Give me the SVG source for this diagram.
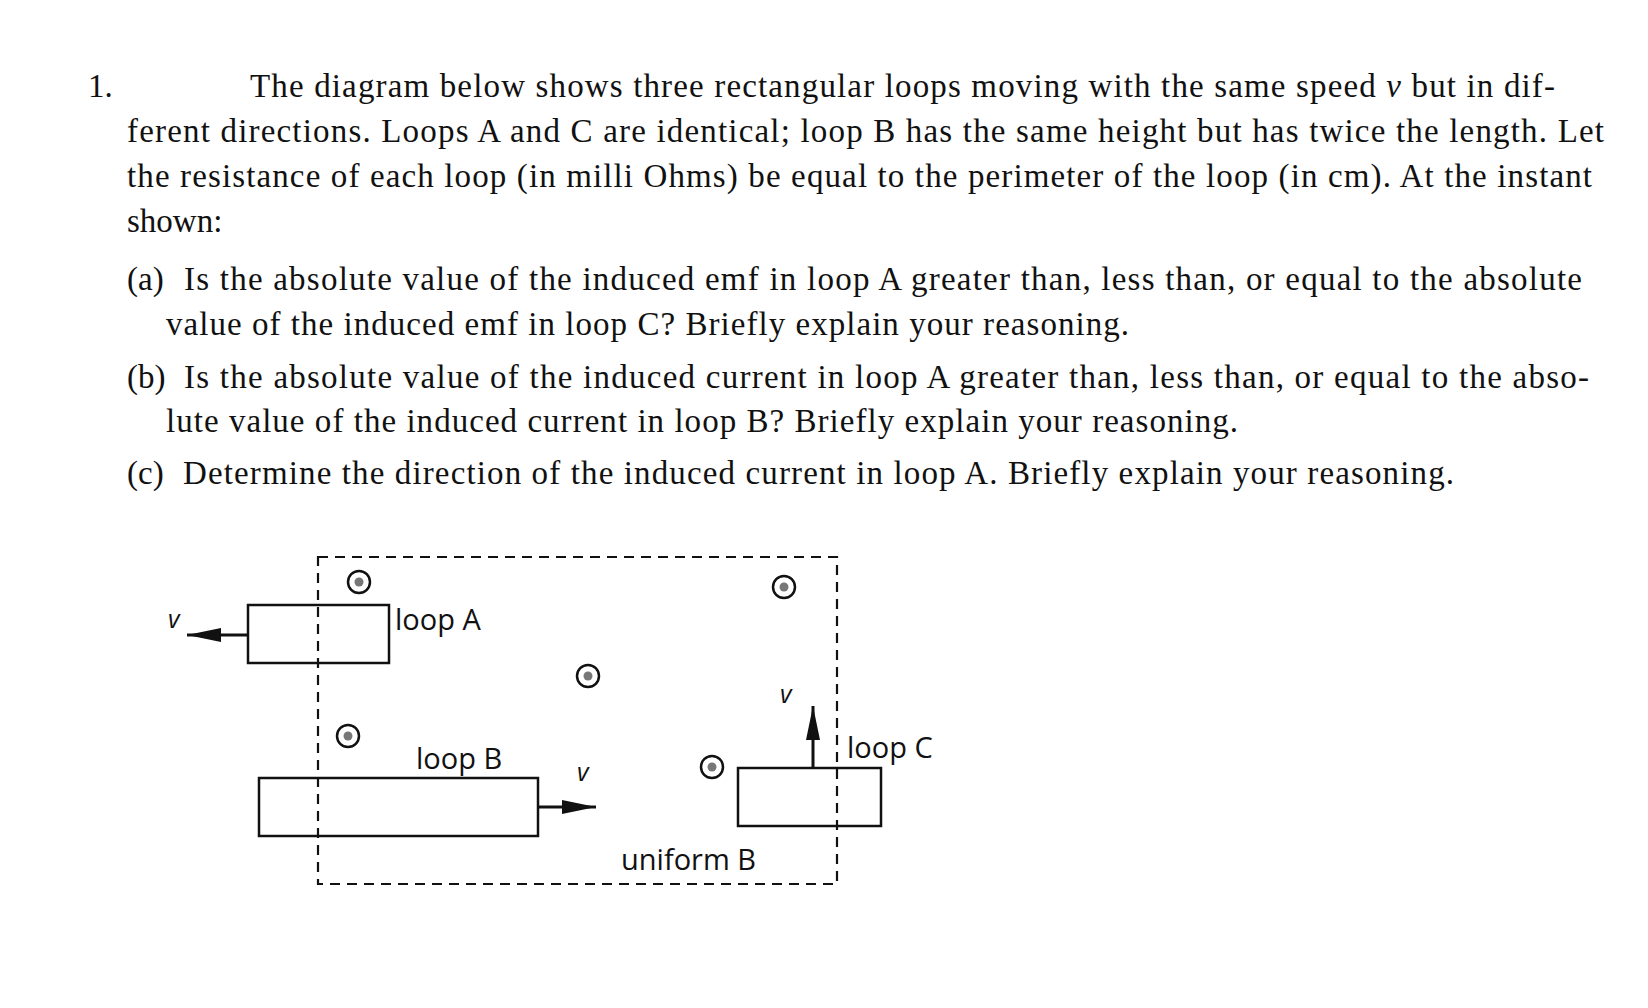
<svg xmlns="http://www.w3.org/2000/svg" width="1648" height="1008" viewBox="0 0 1648 1008">
<style>
.t{font-family:"Liberation Serif",serif;font-size:33px;fill:#111}
.s{font-family:"Open Sans","Liberation Sans",sans-serif;font-size:29px;fill:#111}
.v{font-family:"Open Sans","Liberation Sans",sans-serif;font-size:25px;font-style:italic;fill:#111}
.loop{fill:none;stroke:#111;stroke-width:2.5}
.ln{stroke:#111;stroke-width:3;fill:none}
</style>
<defs>
<marker id="ah2" viewBox="0 0 10 10" refX="10" refY="5" markerWidth="34" markerHeight="14" markerUnits="userSpaceOnUse" orient="auto" preserveAspectRatio="none"><path d="M0,0 L10,5 L0,10 z" fill="#111"/></marker>
<g id="dot"><circle r="11" fill="#fff" stroke="#111" stroke-width="2.5"/><circle r="4.5" fill="#777"/></g>
</defs>
<rect width="1648" height="1008" fill="#fff"/>
<g id="text">
<text class="t" x="88" y="97">1.</text>
<text class="t" x="250" y="97" textLength="1305" lengthAdjust="spacing">The diagram below shows three rectangular loops moving with the same speed <tspan font-style="italic">v</tspan> but in dif-</text>
<text class="t" x="127" y="142" textLength="1477" lengthAdjust="spacing">ferent directions. Loops A and C are identical; loop B has the same height but has twice the length. Let</text>
<text class="t" x="127" y="187" textLength="1465" lengthAdjust="spacing">the resistance of each loop (in milli Ohms) be equal to the perimeter of the loop (in cm). At the instant</text>
<text class="t" x="127" y="232">shown:</text>
<text class="t" x="127" y="290">(a)</text>
<text class="t" x="184" y="290" textLength="1398" lengthAdjust="spacing">Is the absolute value of the induced emf in loop A greater than, less than, or equal to the absolute</text>
<text class="t" x="166" y="335" textLength="963" lengthAdjust="spacing">value of the induced emf in loop C? Briefly explain your reasoning.</text>
<text class="t" x="127" y="388">(b)</text>
<text class="t" x="184" y="388" textLength="1405" lengthAdjust="spacing">Is the absolute value of the induced current in loop A greater than, less than, or equal to the abso-</text>
<text class="t" x="166" y="432" textLength="1072" lengthAdjust="spacing">lute value of the induced current in loop B? Briefly explain your reasoning.</text>
<text class="t" x="127" y="484">(c)</text>
<text class="t" x="183" y="484" textLength="1271" lengthAdjust="spacing">Determine the direction of the induced current in loop A. Briefly explain your reasoning.</text>
</g>
<g id="field">
<rect x="318" y="557" width="519" height="327" fill="none" stroke="#111" stroke-width="2.2" stroke-dasharray="10,7"/>
<use href="#dot" x="359" y="582"/>
<use href="#dot" x="784" y="587"/>
<use href="#dot" x="588" y="676"/>
<use href="#dot" x="348" y="736"/>
<use href="#dot" x="712" y="767"/>
<text class="s" x="621" y="870">uniform B</text>
</g>
<g id="loopA"><rect class="loop" x="248" y="605" width="141" height="58"/><text class="s" x="395" y="630">loop A</text><text class="v" x="168" y="628">v</text></g>
<g id="loopB"><rect class="loop" x="259" y="778" width="279" height="58"/><text class="s" x="416" y="769">loop B</text><text class="v" x="577" y="781">v</text></g>
<g id="loopC"><rect class="loop" x="738" y="768" width="143" height="58"/><text class="s" x="847" y="758">loop C</text><text class="v" x="780" y="703">v</text></g>
<g id="connectors">
<line class="ln" x1="248" y1="635" x2="187" y2="635" marker-end="url(#ah2)"/>
<line class="ln" x1="538" y1="807" x2="596" y2="807" marker-end="url(#ah2)"/>
<line class="ln" x1="813" y1="768" x2="813" y2="706" marker-end="url(#ah2)"/>
</g>
</svg>
